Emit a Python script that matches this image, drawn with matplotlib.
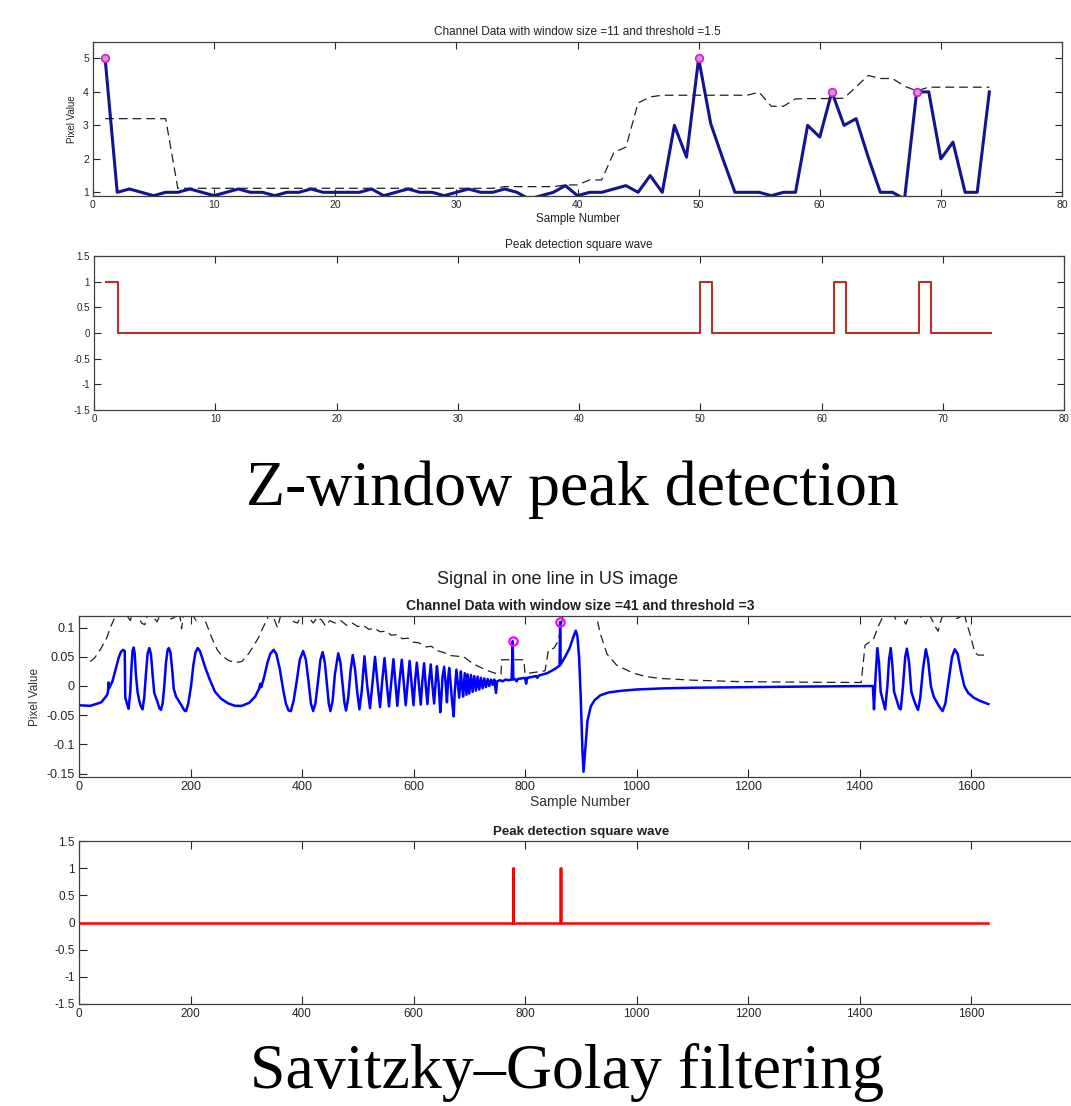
import matplotlib
matplotlib.use('Agg')
import matplotlib.pyplot as plt
from matplotlib import font_manager

# ---------------- Z-window peak detection (samples 1..74) ----------------
z_samples = list(range(1, 75))
z_pixel = [5.0, 1.0, 1.1, 1.0, 0.9, 1.0, 1.0, 1.1, 1.0, 0.9,
           1.0, 1.1, 1.0, 1.0, 0.9, 1.0, 1.0, 1.1, 1.0, 1.0,
           1.0, 1.0, 1.1, 0.9, 1.0, 1.1, 1.0, 1.0, 0.9, 1.0,
           1.1, 1.0, 1.0, 1.1, 1.0, 0.8, 0.9, 1.0, 1.2, 0.9,
           1.0, 1.0, 1.1, 1.2, 1.0, 1.5, 1.0, 3.0, 2.05, 5.0,
           3.05, 2.0, 1.0, 1.0, 1.0, 0.9, 1.0, 1.0, 3.0, 2.65,
           4.0, 3.0, 3.2, 2.05, 1.0, 1.0, 0.8, 4.0, 4.0, 2.0,
           2.5, 1.0, 1.0, 4.0]
z_thresh = [3.2, 3.2, 3.2, 3.2, 3.2, 3.2, 1.12, 1.12, 1.12, 1.12,
            1.12, 1.12, 1.12, 1.12, 1.12, 1.12, 1.12, 1.12, 1.12, 1.12,
            1.12, 1.12, 1.12, 1.12, 1.12, 1.12, 1.12, 1.12, 1.12, 1.12,
            1.12, 1.12, 1.12, 1.17, 1.17, 1.17, 1.17, 1.17, 1.22, 1.22,
            1.37, 1.37, 2.19, 2.35, 3.67, 3.85, 3.9, 3.9, 3.9, 3.9,
            3.9, 3.9, 3.9, 3.9, 3.99, 3.57, 3.57, 3.79, 3.8, 3.8,
            3.8, 3.81, 4.15, 4.49, 4.4, 4.4, 4.17, 4.03, 4.14, 4.14,
            4.14, 4.14, 4.14, 4.14]
z_peak_x = [1, 50, 61, 68]
z_peak_y = [5.0, 5.0, 4.0, 4.0]
z_square = [1 if s in z_peak_x else 0 for s in z_samples]

# ---------------- Savitzky-Golay signal (key samples) ----------------
sg_x = [0, 20, 40, 50, 52, 53, 54, 60, 66, 71, 75, 79, 82, 83, 86, 89, 92, 94, 96, 98,
        100, 102, 105, 108, 111, 114, 117, 120, 123, 126, 129, 132, 135, 138, 141, 144, 147,
        150, 153, 156, 159, 161, 164, 167, 170, 174, 178, 183, 189, 192, 196, 201, 205, 209,
        213, 217, 222, 227, 235, 244, 255, 268, 280, 292, 305, 316, 323, 325, 327, 332, 338,
        343, 349, 354, 360, 366, 371, 376, 380, 385, 390, 396, 402, 407, 412, 416, 420, 424,
        429, 433, 437, 441, 445, 448, 451, 455, 459, 465, 469, 473, 476, 479, 483, 487, 491,
        495, 499, 503, 507, 512, 517, 522, 527, 531, 536, 540, 544, 548, 552, 556, 560, 564,
        568, 571, 575, 579, 583, 586, 590, 593, 597, 600, 603, 606, 610, 613, 616, 619, 622,
        625, 628, 631, 634, 637, 640, 642, 645, 648, 650, 652, 655, 658, 660, 662, 664, 667,
        669, 672, 674, 677, 680, 682, 685, 687, 689, 692, 695, 697, 700, 703, 706, 709, 712,
        715, 718, 721, 724, 727, 730, 733, 736, 739, 742, 745, 748, 750, 755, 760, 765, 770,
        776, 778, 779, 782, 785, 787, 800, 802, 804, 820, 822, 825, 840, 855, 862, 863, 864,
        872, 880, 886, 891, 894, 897, 900, 903, 905, 908, 912, 918, 925, 935, 950, 975, 1000,
        1050, 1100, 1200, 1300, 1424, 1426, 1429, 1432, 1435, 1438, 1442, 1446, 1450, 1453,
        1456, 1459, 1462, 1467, 1471, 1474, 1478, 1482, 1485, 1489, 1493, 1498, 1502, 1505,
        1509, 1514, 1519, 1523, 1528, 1533, 1537, 1543, 1549, 1554, 1560, 1566, 1571, 1576,
        1582, 1588, 1595, 1605, 1615, 1631]
sg_y = [-0.033, -0.034, -0.028, -0.016, -0.010, 0.006, -0.004, 0.008, 0.030, 0.048, 0.058,
        0.062, 0.060, -0.020, -0.030, -0.039, -0.010, 0.030, 0.060, 0.066,
        0.055, 0.020, -0.010, -0.025, -0.035, -0.040, -0.020, 0.020, 0.055, 0.065, 0.055,
        0.020, -0.012, -0.020, -0.028, -0.038, -0.041,
        -0.030, 0.000, 0.040, 0.062, 0.065, 0.058, 0.030, -0.005, -0.018, -0.024, -0.032,
        -0.042, -0.043, -0.030, 0.000, 0.035, 0.058,
        0.065, 0.060, 0.045, 0.030, 0.010, -0.010, -0.022, -0.030, -0.034, -0.034, -0.029,
        -0.018, -0.005, 0.004, -0.002, 0.015, 0.040,
        0.055, 0.062, 0.055, 0.030, -0.005, -0.030, -0.042, -0.043, -0.025, 0.005, 0.045,
        0.060, 0.045, 0.005, -0.030, -0.043, -0.030,
        0.010, 0.045, 0.058, 0.040, 0.000, -0.030, -0.043, -0.025, 0.020, 0.056, 0.040,
        0.000, -0.028, -0.042, -0.020, 0.025, 0.053,
        0.030, -0.010, -0.040, -0.010, 0.051, 0.000, -0.038, 0.010, 0.050, 0.000, -0.036,
        0.010, 0.048, 0.005, -0.035, 0.005, 0.046,
        0.000, -0.034, 0.010, 0.045, 0.000, -0.033, 0.010, 0.043, 0.000, -0.033, 0.010,
        0.040, 0.000, -0.032, 0.010, 0.039, 0.000,
        -0.031, 0.010, 0.037, 0.000, -0.030, 0.010, 0.034, 0.005, -0.045, -0.020, 0.015,
        0.033, 0.000, -0.028, 0.010, 0.031, 0.000,
        -0.025, -0.052, -0.010, 0.028, 0.000, -0.020, 0.025, 0.000, -0.018, 0.022, -0.015,
        0.020, -0.013, 0.019, -0.010, 0.017, -0.008,
        0.016, -0.006, 0.014, -0.004, 0.013, -0.002, 0.012, 0.000, 0.011, 0.002, 0.011,
        -0.012, 0.008, 0.010, 0.008, 0.011, 0.010,
        0.011, 0.077, 0.011, 0.012, 0.008, 0.012, 0.014, 0.004, 0.014, 0.017, 0.014, 0.018,
        0.022, 0.030, 0.035, 0.110, 0.037,
        0.050, 0.065, 0.082, 0.095, 0.085, 0.050, -0.020, -0.110, -0.147, -0.110, -0.060,
        -0.035, -0.024, -0.016, -0.011, -0.008, -0.006,
        -0.004, -0.003, -0.002, -0.001, 0.000, -0.040, 0.020, 0.065, 0.040, -0.010, -0.025,
        -0.040, 0.000, 0.045,
        0.065, 0.035, -0.010, -0.025, -0.038, -0.040, 0.000, 0.050, 0.064, 0.040, -0.010,
        -0.025, -0.035, -0.041,
        -0.020, 0.030, 0.063, 0.045, 0.000, -0.018, -0.025, -0.035, -0.043, -0.030, 0.010,
        0.050, 0.063, 0.055,
        0.025, 0.000, -0.012, -0.020, -0.025, -0.031]

sg_thr_x = [20, 28, 38, 50, 57, 63, 68, 75, 85, 92, 97, 105, 112, 118, 124, 133, 140, 147,
            158, 165, 172, 180, 184, 188, 200, 210, 216, 222, 228, 232, 238, 248, 256, 268,
            280, 292, 304, 314, 322, 330, 336, 342, 350, 356, 362, 375, 385, 392, 400, 410,
            420, 428, 436, 442, 450, 459, 470, 480, 490, 500, 510, 520, 530, 540, 552, 560,
            570, 580, 590, 600, 610, 622, 632, 642, 655, 668, 690, 707, 731, 746, 757, 758,
            798, 800, 822, 836, 842, 852, 860, 866, 870, 920, 928, 935, 947, 964, 994, 1018,
            1042, 1100, 1185, 1300, 1403, 1410, 1425, 1434, 1440, 1445, 1452, 1460, 1466,
            1472, 1478, 1483, 1490, 1500, 1508, 1515, 1522, 1531, 1537, 1541, 1546, 1552,
            1565, 1572, 1580, 1587, 1592, 1598, 1607, 1613, 1630]
sg_thr_y = [0.042, 0.048, 0.062, 0.083, 0.102, 0.115, 0.125, 0.128, 0.122, 0.112, 0.128,
            0.125, 0.108, 0.105, 0.125, 0.118, 0.110, 0.125,
            0.128, 0.115, 0.118, 0.128, 0.098, 0.125, 0.128, 0.112, 0.125, 0.118, 0.108,
            0.098, 0.083, 0.062, 0.052, 0.044,
            0.040, 0.042, 0.055, 0.070, 0.083, 0.100, 0.112, 0.125, 0.115, 0.100, 0.122,
            0.128, 0.110, 0.108, 0.125, 0.120,
            0.108, 0.118, 0.112, 0.103, 0.112, 0.108, 0.112, 0.104, 0.108, 0.102, 0.104,
            0.097, 0.099, 0.093, 0.094, 0.087,
            0.088, 0.081, 0.082, 0.075, 0.074, 0.067, 0.068, 0.061, 0.057, 0.052, 0.050,
            0.038, 0.027, 0.022, 0.020, 0.045,
            0.045, 0.021, 0.024, 0.026, 0.062, 0.065, 0.078, 0.110, 0.130, 0.130, 0.120,
            0.090, 0.055, 0.036, 0.022, 0.016,
            0.013, 0.010, 0.0075, 0.0065, 0.006, 0.070, 0.080, 0.103, 0.115, 0.128, 0.118,
            0.125, 0.112,
            0.125, 0.115, 0.106, 0.122, 0.128, 0.118, 0.120, 0.128, 0.112, 0.100, 0.094,
            0.112, 0.128,
            0.125, 0.115, 0.118, 0.128, 0.108, 0.090, 0.057, 0.053, 0.053]

sg_peak_x = [778, 863]
sg_peak_y = [0.077, 0.110]
sg_square_x = [1, 778, 779, 863, 864, 1631]
sg_square_y = [0, 1, 0, 1, 0, 0]

z_xticks = [0, 10, 20, 30, 40, 50, 60, 70, 80]
z_yticks = [1, 2, 3, 4, 5]
sg_xticks = [0, 200, 400, 600, 800, 1000, 1200, 1400, 1600, 1800]
sg_yticks = [0.1, 0.05, 0, -0.05, -0.1, -0.15]
sg_ylabels = ['0.1', '0.05', '0', '-0.05', '-0.1', '-0.15']
sq_yticks = [1.5, 1, 0.5, 0, -0.5, -1, -1.5]
sq_ylabels = ['1.5', '1', '0.5', '0', '-0.5', '-1', '-1.5']

installed = {f.name for f in font_manager.fontManager.ttflist}
sans = 'Liberation Sans' if 'Liberation Sans' in installed else 'DejaVu Sans'
narrow = 'Liberation Sans Narrow' if 'Liberation Sans Narrow' in installed else sans
serif = 'Liberation Serif' if 'Liberation Serif' in installed else 'DejaVu Serif'
plt.rcParams['font.family'] = [sans, 'DejaVu Sans']
plt.rcParams['axes.unicode_minus'] = False

W, H = 1071, 1106
fig = plt.figure(figsize=(W / 100, H / 100), dpi=100)


def box(left, top, right, bottom):
    return [left / W, 1 - bottom / H, (right - left) / W, (bottom - top) / H]


def matlab_style(ax, size, family, length):
    ax.tick_params(direction='in', top=True, right=True, length=length, width=0.8,
                   labelsize=size, colors='#262626', pad=3)
    for lab in ax.get_xticklabels() + ax.get_yticklabels():
        lab.set_family(family)
    for sp in ax.spines.values():
        sp.set_color('#404040')
        sp.set_linewidth(0.9)


# --- panel 1
ax1 = fig.add_axes(box(93, 42, 1062, 196))
ax1.plot(z_samples, z_thresh, color='#202020', lw=0.9, dashes=(7, 4))
ax1.plot(z_samples, z_pixel, color='#14148f', lw=2.2)
ax1.plot(z_peak_x, z_peak_y, 'o', ms=5.5, mfc='#e08be0', mec='#d020d0', mew=1.2)
ax1.set_xlim(0, 80)
ax1.set_ylim(0.89, 5.49)
ax1.set_xticks(z_xticks)
ax1.set_yticks(z_yticks)
matlab_style(ax1, 7.5, sans, 5)
ax1.set_title('Channel Data with window size =11 and threshold =1.5', fontsize=8.5, pad=5,
              color='#202020')
ax1.set_xlabel('Sample Number', fontsize=8.4, labelpad=2, color='#202020')
ax1.set_ylabel('Pixel Value', fontsize=7, family=narrow, labelpad=4, color='#202020')

# --- panel 2
ax2 = fig.add_axes(box(94, 256, 1064, 410))
ax2.step(z_samples, z_square, where='post', color='#b8302a', lw=1.5)
ax2.set_xlim(0, 80)
ax2.set_ylim(-1.5, 1.5)
ax2.set_xticks(z_xticks)
ax2.set_yticks(sq_yticks)
ax2.set_yticklabels(sq_ylabels)
matlab_style(ax2, 7, narrow, 5)
ax2.set_title('Peak detection square wave', fontsize=8.5, family=narrow, pad=6, color='#202020')

fig.text(572 / W, 1 - 505 / H, 'Z-window peak detection', family=serif, fontsize=46,
         ha='center', va='baseline')

# --- panel 3
fig.text(558 / W, 1 - 580 / H, 'Signal in one line in US image', fontsize=13, ha='center',
         va='center', color='#202020')
ax3 = fig.add_axes(box(79, 616, 79 + 1800 * 0.5575, 777))
ax3.plot(sg_thr_x, sg_thr_y, color='#202020', lw=0.9, dashes=(7, 4))
ax3.plot(sg_x, sg_y, color='#0000ff', lw=1.8)
ax3.plot(sg_peak_x, sg_peak_y, 'o', ms=6, mfc='none', mec='#ff00ff', mew=1.6)
ax3.set_xlim(0, 1800)
ax3.set_ylim(-0.156, 0.12)
ax3.set_xticks(sg_xticks)
ax3.set_yticks(sg_yticks)
ax3.set_yticklabels(sg_ylabels)
matlab_style(ax3, 9, sans, 6)
ax3.set_title('Channel Data with window size =41 and threshold =3', fontsize=10,
              fontweight='bold', pad=4, color='#202020')
ax3.set_xlabel('Sample Number', fontsize=10, labelpad=1, color='#303030')
ax3.set_ylabel('Pixel Value', fontsize=8.5, labelpad=4, color='#303030')

# --- panel 4
ax4 = fig.add_axes(box(79, 841, 79 + 1800 * 0.5575, 1004))
ax4.step(sg_square_x, sg_square_y, where='post', color='#ff0000', lw=1.8)
ax4.set_xlim(0, 1800)
ax4.set_ylim(-1.5, 1.5)
ax4.set_xticks(sg_xticks)
ax4.set_yticks(sq_yticks)
ax4.set_yticklabels(sq_ylabels)
matlab_style(ax4, 8.5, narrow, 6)
ax4.set_title('Peak detection square wave', fontsize=9.5, fontweight='bold', family=narrow,
              pad=4, color='#202020')

fig.text(567 / W, 1 - 1088 / H, 'Savitzky\u2013Golay filtering', family=serif, fontsize=46,
         ha='center', va='baseline')

fig.savefig('out.png', dpi=100)
